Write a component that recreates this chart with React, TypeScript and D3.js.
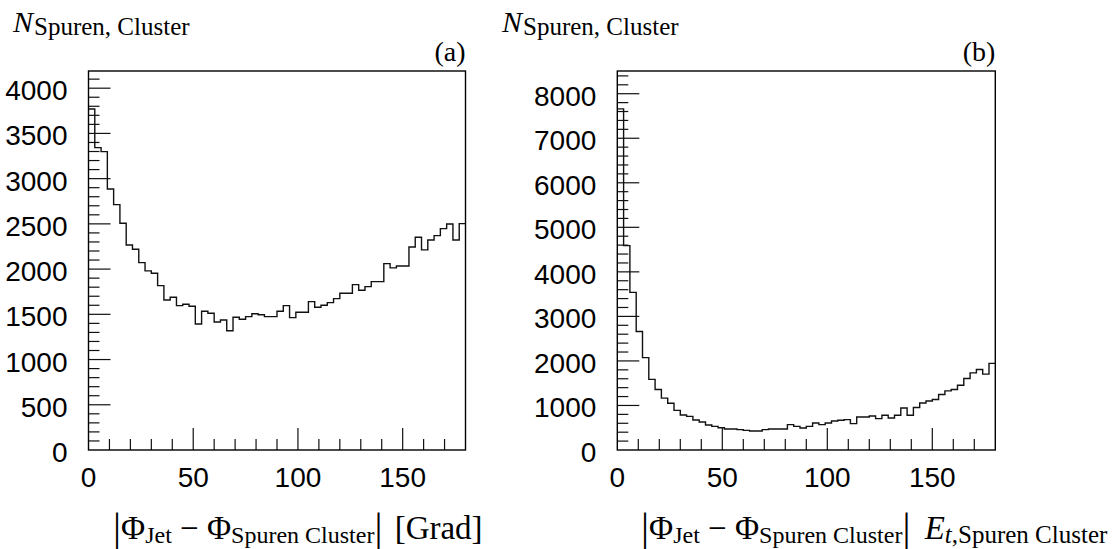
import React, { useEffect, useRef } from 'react';
import * as d3 from 'd3';

// bin contents, 60 bins of 3 degrees each
const countsA = [
  3770, 3343, 3299, 2886, 2713, 2507, 2267, 2219, 2071, 1980,
  1954, 1817, 1659, 1689, 1596, 1611, 1589, 1393, 1534, 1512,
  1415, 1438, 1319, 1467, 1445, 1474, 1507, 1496, 1474, 1474,
  1534, 1596, 1463, 1523, 1523, 1640, 1578, 1600, 1629, 1673,
  1733, 1733, 1828, 1766, 1806, 1861, 1861, 2060, 2013, 2035,
  2035, 2245, 2352, 2212, 2322, 2370, 2447, 2499, 2322, 2503,
];

const countsB = [
  7660, 4590, 3540, 2660, 2075, 1585, 1360, 1165, 1050, 890,
  785, 755, 672, 628, 562, 531, 500, 471, 471, 457,
  441, 426, 426, 457, 471, 471, 471, 570, 531, 494,
  531, 606, 570, 606, 651, 667, 682, 592, 741, 741,
  764, 705, 779, 718, 779, 944, 779, 953, 1056, 1101,
  1133, 1245, 1327, 1358, 1455, 1606, 1732, 1808, 1703, 1944,
];

const binWidth = 3;
const xTicks = [0, 50, 100, 150];
const yTicksA = [0, 500, 1000, 1500, 2000, 2500, 3000, 3500, 4000];
const yTicksB = [0, 1000, 2000, 3000, 4000, 5000, 6000, 7000, 8000];

type Panel = {
  counts: number[];
  left: number;
  right: number;
  yMax: number;
  yTicks: number[];
  yMinor: number;
  tag: string;
  titleX: number;
};

const App: React.FC = () => {
  const svgRef = useRef<SVGSVGElement | null>(null);

  useEffect(() => {
    const width = 1119;
    const height = 549;
    const top = 71;
    const bottom = 450;
    const serif = 'Liberation Serif, Times New Roman, serif';
    const sans = 'Liberation Sans, Arial, sans-serif';

    const svg = d3.select(svgRef.current)
      .attr('width', width)
      .attr('height', height);

    svg.selectAll('*').remove();

    const drawPanel = (p: Panel) => {
      const x = d3.scaleLinear().domain([0, 180]).range([p.left, p.right]);
      const y = d3.scaleLinear().domain([0, p.yMax]).range([bottom, top]);
      const g = svg.append('g');

      // y ticks (inside), minor + major
      d3.range(p.yMinor, p.yMax, p.yMinor).forEach(v => {
        const major = p.yTicks.includes(v);
        g.append('line')
          .attr('x1', p.left).attr('x2', p.left + (major ? 22 : 11))
          .attr('y1', y(v)).attr('y2', y(v))
          .attr('stroke', '#111').attr('stroke-width', 1.2);
      });

      // x ticks (inside), every 10, long every 50
      d3.range(10, 180, 10).forEach(v => {
        const major = v % 50 === 0;
        g.append('line')
          .attr('x1', x(v)).attr('x2', x(v))
          .attr('y1', bottom).attr('y2', bottom - (major ? 22 : 11))
          .attr('stroke', '#111').attr('stroke-width', 1.2);
      });

      // histogram outline
      const pts: [number, number][] = p.counts.map((c, i) => [i * binWidth, c]);
      pts.push([180, p.counts[p.counts.length - 1]]);
      const line = d3.line<[number, number]>()
        .x(d => x(d[0]))
        .y(d => y(d[1]))
        .curve(d3.curveStepAfter);
      g.append('path')
        .datum(pts)
        .attr('fill', 'none')
        .attr('stroke', '#111')
        .attr('stroke-width', 1.4)
        .attr('d', line);

      // frame
      g.append('rect')
        .attr('x', p.left).attr('y', top)
        .attr('width', p.right - p.left).attr('height', bottom - top)
        .attr('fill', 'none').attr('stroke', '#000').attr('stroke-width', 1.4);

      // tick labels
      p.yTicks.forEach(v => {
        g.append('text')
          .attr('x', p.left - 21).attr('y', y(v) + 12)
          .attr('text-anchor', 'end')
          .attr('font-family', sans).attr('font-size', 28)
          .text(v);
      });
      xTicks.forEach(v => {
        g.append('text')
          .attr('x', x(v)).attr('y', 487)
          .attr('text-anchor', 'middle')
          .attr('font-family', sans).attr('font-size', 28)
          .text(v);
      });

      // panel tag
      g.append('text')
        .attr('x', p.right).attr('y', 61)
        .attr('text-anchor', 'end')
        .attr('font-family', serif).attr('font-size', 28)
        .text(p.tag);

      // y title
      const t = g.append('text')
        .attr('x', p.titleX).attr('y', 32)
        .attr('font-family', serif);
      t.append('tspan').attr('font-size', 30).attr('font-style', 'italic').text('N');
      t.append('tspan').attr('font-size', 25).attr('y', 35).attr('dx', 1).text('Spuren, Cluster');
    };

    drawPanel({ counts: countsA, left: 88.5, right: 465.5, yMax: 4190, yTicks: yTicksA, yMinor: 100, tag: '(a)', titleX: 13 });
    drawPanel({ counts: countsB, left: 617.3, right: 995.3, yMax: 8510, yTicks: yTicksB, yMinor: 200, tag: '(b)', titleX: 502 });

    // x axis titles
    const xTitle = (x0: number, right: boolean) => {
      const t = svg.append('text')
        .attr('x', x0).attr('y', 539)
        .attr('font-family', serif).attr('font-size', 33);
      t.append('tspan').attr('font-size', 40).attr('y', 540).text('|');
      t.append('tspan').attr('y', 539).text('Φ');
      t.append('tspan').attr('font-size', 24).attr('y', 543).text('Jet');
      t.append('tspan').attr('y', 539).text(' − Φ');
      t.append('tspan').attr('font-size', 24).attr('y', 543).text('Spuren Cluster');
      t.append('tspan').attr('font-size', 40).attr('y', 540).text('|');
      if (!right) {
        t.append('tspan').attr('y', 539).attr('dx', 4).text(' [Grad]');
      } else {
        t.append('tspan').attr('y', 539).attr('dx', 6).attr('font-style', 'italic').text(' E');
        t.append('tspan').attr('font-size', 25).attr('y', 543).attr('font-style', 'italic').text('t');
        t.append('tspan').attr('font-size', 25).attr('y', 543).text(',Spuren Cluster');
      }
    };
    xTitle(113, false);
    xTitle(641, true);
  }, []);

  return (
    <svg ref={svgRef} style={{ position: 'absolute', left: 0, top: 0, background: '#fff' }}></svg>
  );
};

export default App;
